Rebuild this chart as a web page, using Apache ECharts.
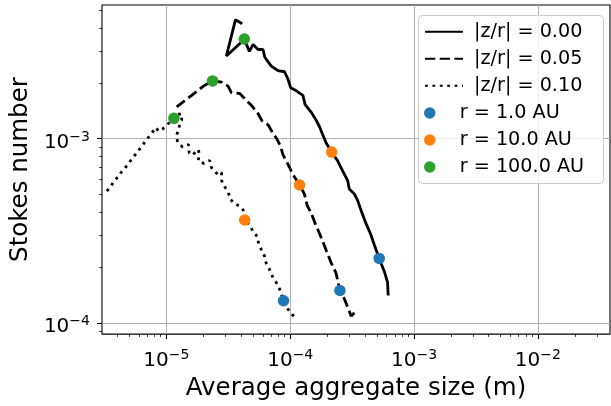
<!DOCTYPE html>
<html><head><meta charset="utf-8">
<script src="https://cdn.jsdelivr.net/npm/echarts@6/dist/echarts.min.js"></script>
<style>html,body{margin:0;padding:0;background:#fff}#c{width:611px;height:406px}</style>
</head><body><div id="c"></div>
<script>
// ---- data ----
const solidSize = [4.09e-5,3.61e-5,3.05e-5,4.26e-5,4.68e-5,5.01e-5,5.50e-5,6.03e-5,6.23e-5,7.03e-5,7.96e-5,9.00e-5,9.58e-5,1.009e-4,1.12e-4,1.265e-4,1.32e-4,1.48e-4,1.62e-4,1.72e-4,1.83e-4,1.95e-4,2.165e-4,2.42e-4,2.65e-4,2.91e-4,3.00e-4,3.29e-4,3.50e-4,3.73e-4,4.09e-4,4.48e-4,4.77e-4,5.23e-4,5.74e-4,6.11e-4,6.18e-4];
const solidStokes = [4.21e-3,4.42e-3,2.81e-3,3.46e-3,2.98e-3,3.25e-3,3.05e-3,3.05e-3,2.77e-3,2.48e-3,2.34e-3,2.31e-3,2.11e-3,1.89e-3,1.82e-3,1.72e-3,1.53e-3,1.39e-3,1.26e-3,1.165e-3,1.05e-3,9.48e-4,8.46e-4,7.57e-4,6.69e-4,5.92e-4,5.34e-4,5.02e-4,4.63e-4,4.09e-4,3.47e-4,3.01e-4,2.66e-4,2.24e-4,1.91e-4,1.66e-4,1.41e-4];

const dashedSize = [1.21e-5,1.60e-5,1.99e-5,2.36e-5,2.79e-5,3.15e-5,3.35e-5,3.91e-5,4.29e-5,4.85e-5,5.49e-5,5.92e-5,6.62e-5,7.26e-5,7.71e-5,8.36e-5,8.73e-5,9.6e-5,1.05e-4,1.19e-4,1.30e-4,1.37e-4,1.48e-4,1.59e-4,1.72e-4,1.83e-4,1.99e-4,2.14e-4,2.34e-4,2.52e-4,2.70e-4,2.91e-4,3.10e-4,3.51e-4];
const dashedStokes = [1.49e-3,1.72e-3,1.93e-3,2.06e-3,2.03e-3,1.93e-3,1.78e-3,1.76e-3,1.65e-3,1.52e-3,1.37e-3,1.25e-3,1.19e-3,1.07e-3,1.01e-3,9.1e-4,8.2e-4,7.26e-4,6.41e-4,5.61e-4,5.02e-4,4.35e-4,3.93e-4,3.47e-4,3.07e-4,2.77e-4,2.40e-4,2.12e-4,1.87e-4,1.50e-4,1.38e-4,1.22e-4,1.09e-4,1.18e-4];

const dottedSize = [3.31e-6,3.63e-6,3.98e-6,4.37e-6,4.80e-6,5.26e-6,5.77e-6,6.33e-6,6.85e-6,7.52e-6,8.24e-6,8.62e-6,9.33e-6,1.04e-5,1.15e-5,1.23e-5,1.33e-5,1.33e-5,1.26e-5,1.21e-5,1.23e-5,1.35e-5,1.51e-5,1.53e-5,1.62e-5,1.81e-5,1.84e-5,1.81e-5,2.00e-5,2.24e-5,2.31e-5,2.59e-5,2.79e-5,2.79e-5,2.96e-5,3.15e-5,3.31e-5,3.57e-5,3.91e-5,4.16e-5,4.29e-5,4.71e-5,5.01e-5,5.43e-5,5.56e-5,5.85e-5,6.21e-5,6.41e-5,6.81e-5,7.26e-5,7.71e-5,8.20e-5,8.83e-5,9.58e-5,1.05e-4,1.10e-4];
const dottedStokes = [5.19e-4,5.64e-4,6.11e-4,6.64e-4,7.14e-4,7.76e-4,8.39e-4,9.10e-4,9.80e-4,1.06e-3,1.15e-3,1.10e-3,1.13e-3,1.21e-3,1.29e-3,1.36e-3,1.36e-3,1.26e-3,1.15e-3,1.04e-3,9.6e-4,9.03e-4,9.29e-4,8.39e-4,8.15e-4,8.73e-4,8.32e-4,7.57e-4,7.35e-4,7.62e-4,6.97e-4,6.41e-4,6.56e-4,5.92e-4,5.49e-4,5.13e-4,4.66e-4,4.43e-4,4.30e-4,4.12e-4,3.62e-4,3.40e-4,3.13e-4,2.94e-4,2.69e-4,2.50e-4,2.30e-4,2.10e-4,1.95e-4,1.76e-4,1.66e-4,1.53e-4,1.32e-4,1.19e-4,1.10e-4,1.07e-4];

const r1Size = [5.23e-4,2.52e-4,8.83e-5];
const r1Stokes = [2.24e-4,1.50e-4,1.32e-4];
const r10Size = [2.165e-4,1.19e-4,4.29e-5];
const r10Stokes = [8.46e-4,5.61e-4,3.62e-4];
const r100Size = [4.26e-5,2.36e-5,1.15e-5];
const r100Stokes = [3.48e-3,2.06e-3,1.29e-3];

const lineNames = ['|z/r| = 0.00','|z/r| = 0.05','|z/r| = 0.10'];
const pointNames = ['r = 1.0 AU','r = 10.0 AU','r = 100.0 AU'];
const xMajor = [1e-5,1e-4,1e-3,1e-2];
const yMajor = [1e-4,1e-3];
const xLimits = [3.02e-6, 0.0382];
const yLimits = [8.7e-5, 5.32e-3];
const xTitle = 'Average aggregate size (m)';
const yTitle = 'Stokes number';

// ---- helpers ----
const L = Math.log10;
const pairs = (xs, ys) => xs.map((x, i) => [L(x), L(ys[i])]);
function minorTicks(lim) {
  const out = [];
  const lo = Math.floor(L(lim[0])), hi = Math.ceil(L(lim[1]));
  for (let n = lo; n <= hi; n++) for (let k = 2; k <= 9; k++) {
    const v = L(k * Math.pow(10, n));
    if (v >= L(lim[0]) && v <= L(lim[1])) out.push(v);
  }
  return out;
}
const FONT = 'DejaVu Sans';
const fmt = v => { const e = Math.round(v); return '{b|10}{s|' + (e < 0 ? '\u2212' : '') + Math.abs(e) + '}'; };
const rich = {
  b: { fontSize: 20, fontFamily: FONT, color: '#000', verticalAlign: 'bottom', lineHeight: 28 },
  s: { fontSize: 14, fontFamily: FONT, color: '#000', verticalAlign: 'bottom', lineHeight: 28, padding: [0, 0, 8.5, 0] }
};
const grid = { left: 100, right: 1, top: 5, bottom: 67, show: true, borderColor: '#000', borderWidth: 1.1, backgroundColor: 'transparent' };

function majorAxis(lim, ticks, isX) {
  const lv = ticks.map(L);
  return {
    type: 'value', min: L(lim[0]), max: L(lim[1]),
    position: isX ? 'bottom' : 'left',
    axisLine: { show: false },
    axisTick: { show: true, customValues: lv, length: 5, lineStyle: { color: '#000', width: 1.1 } },
    splitLine: { show: true, lineStyle: { color: '#b0b0b0', width: 1.1 } },
    axisLabel: { customValues: lv, formatter: fmt, rich: rich, margin: isX ? 9 : 12 },
    name: isX ? xTitle : yTitle, nameLocation: 'middle', nameGap: isX ? 30 : 67,
    nameTextStyle: { fontSize: 24.5, fontFamily: FONT, color: '#000' }
  };
}
function minorAxis(lim, isX) {
  return {
    type: 'value', min: L(lim[0]), max: L(lim[1]),
    position: isX ? 'bottom' : 'left',
    axisLine: { show: false },
    axisTick: { show: true, customValues: minorTicks(lim), length: 2.8, lineStyle: { color: '#000', width: 0.8 } },
    splitLine: { show: false },
    axisLabel: { show: false }
  };
}

const lineStyles = [
  { type: 'solid', width: 2.8 },
  { type: [10.3, 4.4], width: 2.8 },
  { type: [2.8, 4.6], width: 2.8 }
];
const lineData = [pairs(solidSize, solidStokes), pairs(dashedSize, dashedStokes), pairs(dottedSize, dottedStokes)];
const pointData = [pairs(r1Size, r1Stokes), pairs(r10Size, r10Stokes), pairs(r100Size, r100Stokes)];
const pointColors = ['#1f77b4', '#ff7f0e', '#2ca02c'];

const series = [];
lineData.forEach((d, i) => series.push({
  type: 'line', name: lineNames[i], data: d, symbol: 'none', showSymbol: false,
  lineStyle: Object.assign({ color: '#000' }, lineStyles[i]), itemStyle: { color: '#000' },
  clip: true, animation: false, z: 2
}));
pointData.forEach((d, i) => series.push({
  type: 'scatter', name: pointNames[i], data: d, symbol: 'circle', symbolSize: 11.5,
  itemStyle: { color: pointColors[i], opacity: 1 }, animation: false, z: 3
}));

const legendText = { fontSize: 19.2, fontFamily: FONT, color: '#000', lineHeight: 20, padding: [0, 0, 0, 6] };
const option = {
  animation: false,
  grid: grid,
  xAxis: [majorAxis(xLimits, xMajor, true), minorAxis(xLimits, true)],
  yAxis: [majorAxis(yLimits, yMajor, false), minorAxis(yLimits, false)],
  graphic: [{
    type: 'rect', z: 3, shape: { x: 418.5, y: 15.5, width: 185, height: 168, r: 4 },
    style: { fill: 'rgba(255,255,255,0.8)', stroke: '#cccccc', lineWidth: 1 }
  }],
  legend: [
    { data: lineNames, orient: 'vertical', left: 424, top: 21.7, padding: 0, itemWidth: 38, itemHeight: 14, itemGap: 7,
      itemStyle: { color: 'rgba(0,0,0,0)', borderWidth: 0, opacity: 0 },
      textStyle: legendText, z: 5, selectedMode: false },
    { data: pointNames, orient: 'vertical', left: 424, top: 103, padding: 0, itemWidth: 38, itemHeight: 11.5, itemGap: 7,
      textStyle: legendText, z: 5, selectedMode: false }
  ],
  series: series
};
const chart = echarts.init(document.getElementById('c'), null, { renderer: 'canvas' });
chart.setOption(option);
</script>
</body></html>
